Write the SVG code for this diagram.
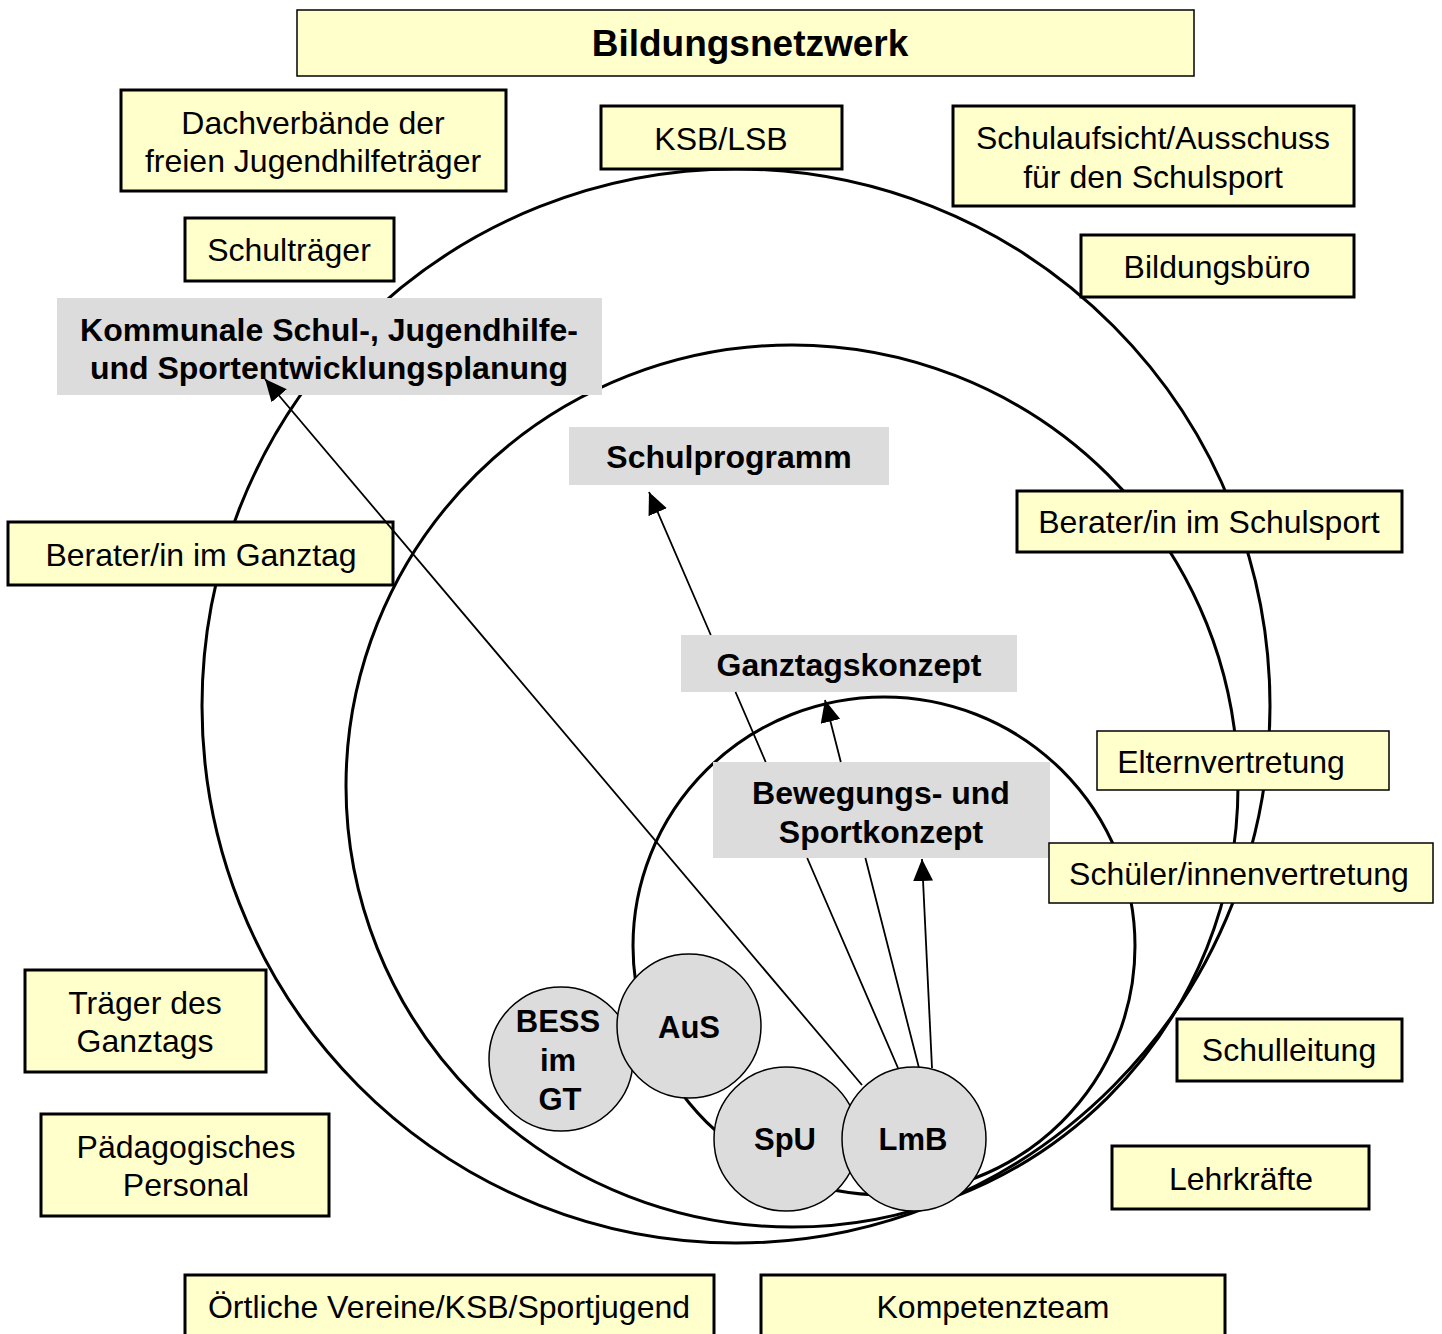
<svg xmlns="http://www.w3.org/2000/svg" width="1442" height="1334" viewBox="0 0 1442 1334">
<style>
.y{fill:#ffffcc;stroke:#000;stroke-width:3}
.yt{fill:#ffffcc;stroke:#000;stroke-width:1.5}
.g{fill:#dcdcdc;stroke:none}
.c{fill:none;stroke:#000;stroke-width:3}
.s{fill:#dcdcdc;stroke:#000;stroke-width:1.5}
.t{font-family:"Liberation Sans",Arial,sans-serif;font-size:32px;fill:#000;text-anchor:middle}
.b{font-family:"Liberation Sans",Arial,sans-serif;font-size:32px;font-weight:bold;fill:#000;text-anchor:middle}
.a{stroke:#000;stroke-width:1.8;fill:none;marker-end:url(#ah)}
</style>
<defs>
<marker id="ah" viewBox="0 0 22 20" refX="22" refY="10" markerWidth="22" markerHeight="20" markerUnits="userSpaceOnUse" orient="auto">
<path d="M0,0 L22,10 L0,20 Z" fill="#000"/>
</marker>
</defs>
<rect width="1442" height="1334" fill="#fff"/>
<g id="circles">
<ellipse class="c" cx="736" cy="706" rx="534" ry="537"/>
<ellipse class="c" cx="792" cy="786" rx="446" ry="441"/>
<ellipse class="c" cx="884" cy="946" rx="251" ry="249"/>
</g>
<g id="kommunale"><rect class="g" x="57" y="298" width="545" height="97"/><text class="b" x="329" y="341">Kommunale Schul-, Jugendhilfe-</text><text class="b" x="329" y="379">und Sportentwicklungsplanung</text></g>
<g id="schulprogramm"><rect class="g" x="569" y="427" width="320" height="58"/><text class="b" x="729" y="468">Schulprogramm</text></g>
<g id="ganztagskonzept"><rect class="g" x="681" y="635" width="336" height="57"/><text class="b" x="849" y="676">Ganztagskonzept</text></g>
<g id="bewegungskonzept"><rect class="g" x="713" y="762" width="337" height="96"/><text class="b" x="881" y="804">Bewegungs- und</text><text class="b" x="881" y="843">Sportkonzept</text></g>
<g id="bildungsnetzwerk"><rect class="yt" x="297" y="10" width="897" height="66"/><text class="b" x="750" y="56" style="font-size:37px">Bildungsnetzwerk</text></g>
<g id="dachverbaende"><rect class="y" x="121" y="90" width="385" height="101"/><text class="t" x="313" y="134">Dachverbände der</text><text class="t" x="313" y="172">freien Jugendhilfeträger</text></g>
<g id="ksb"><rect class="y" x="601" y="106" width="241" height="63"/><text class="t" x="721" y="150">KSB/LSB</text></g>
<g id="schulaufsicht"><rect class="y" x="953" y="106" width="401" height="100"/><text class="t" x="1153" y="149">Schulaufsicht/Ausschuss</text><text class="t" x="1153" y="188">für den Schulsport</text></g>
<g id="schultraeger"><rect class="y" x="185" y="218" width="209" height="63"/><text class="t" x="289" y="261">Schulträger</text></g>
<g id="bildungsbuero"><rect class="y" x="1081" y="235" width="273" height="62"/><text class="t" x="1217" y="278">Bildungsbüro</text></g>
<g id="berater-ganztag"><rect class="y" x="8" y="522" width="385" height="63"/><text class="t" x="201" y="566">Berater/in im Ganztag</text></g>
<g id="berater-schulsport"><rect class="y" x="1017" y="491" width="385" height="61"/><text class="t" x="1209" y="533">Berater/in im Schulsport</text></g>
<g id="elternvertretung"><rect class="yt" x="1097" y="731" width="292" height="59"/><text class="t" x="1231" y="773">Elternvertretung</text></g>
<g id="schuelervertretung"><rect class="yt" x="1049" y="843" width="384" height="60"/><text class="t" x="1239" y="885">Schüler/innenvertretung</text></g>
<g id="traeger-ganztag"><rect class="y" x="25" y="970" width="241" height="102"/><text class="t" x="145" y="1014">Träger des</text><text class="t" x="145" y="1052">Ganztags</text></g>
<g id="schulleitung"><rect class="y" x="1177" y="1019" width="225" height="62"/><text class="t" x="1289" y="1061">Schulleitung</text></g>
<g id="paedagogisches"><rect class="y" x="41" y="1114" width="288" height="102"/><text class="t" x="186" y="1158">Pädagogisches</text><text class="t" x="186" y="1196">Personal</text></g>
<g id="lehrkraefte"><rect class="y" x="1112" y="1146" width="257" height="63"/><text class="t" x="1241" y="1190">Lehrkräfte</text></g>
<g id="vereine"><rect class="y" x="185" y="1275" width="529" height="70"/><text class="t" x="449" y="1318">Örtliche Vereine/KSB/Sportjugend</text></g>
<g id="kompetenzteam"><rect class="y" x="761" y="1275" width="464" height="70"/><text class="t" x="993" y="1318">Kompetenzteam</text></g>
<g id="connectors">
<path class="a" d="M862,1085 L265,379"/>
<path class="a" d="M898,1068 L807.2,858 M765.7,762 L735.5,692 M710.8,635 L649,492"/>
<path class="a" d="M919,1068 L865.4,858 M840.8,762 L825,700"/>
<path class="a" d="M932,1068 L922,859"/>
</g>
<g id="bess"><circle class="s" cx="561" cy="1059" r="72"/><text class="b" x="558" y="1032" style="font-size:31px">BESS</text><text class="b" x="558" y="1071" style="font-size:31px">im</text><text class="b" x="560" y="1110" style="font-size:31px">GT</text></g>
<g id="aus"><circle class="s" cx="689" cy="1026" r="72"/><text class="b" x="689" y="1038" style="font-size:31px">AuS</text></g>
<g id="spu"><circle class="s" cx="786" cy="1139" r="72"/><text class="b" x="785" y="1150" style="font-size:31px">SpU</text></g>
<g id="lmb"><circle class="s" cx="914" cy="1139" r="72"/><text class="b" x="913" y="1150" style="font-size:31px">LmB</text></g>
</svg>
